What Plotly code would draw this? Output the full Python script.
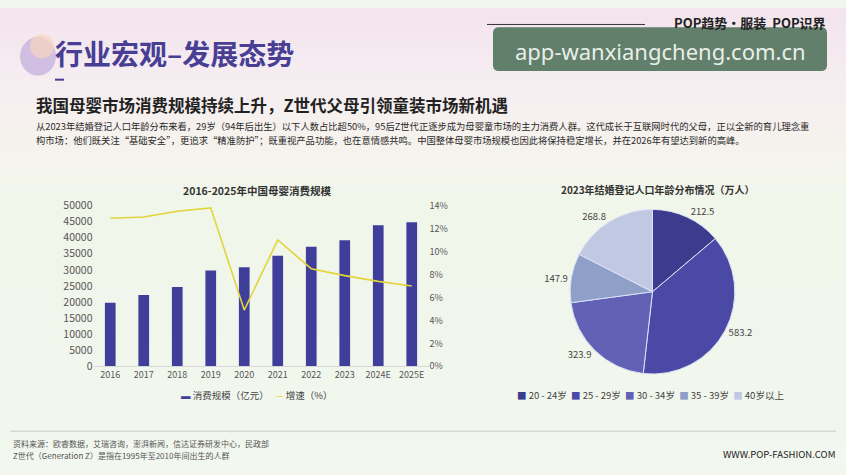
import plotly.graph_objects as go

W, H = 846, 475

# ---------------- data ----------------
years = ["2016", "2017", "2018", "2019", "2020", "2021", "2022", "2023", "2024E", "2025E"]
scale_values = [19800, 22200, 24700, 29800, 30800, 34400, 37200, 39200, 43900, 44800]
growth_rates = [0.129, 0.130, 0.135, 0.138, 0.049, 0.110, 0.085, 0.079, 0.074, 0.070]
left_ticks = [0, 5000, 10000, 15000, 20000, 25000, 30000, 35000, 40000, 45000, 50000]
right_ticks = [0, 0.02, 0.04, 0.06, 0.08, 0.10, 0.12, 0.14]
bar_name = "消费规模（亿元）"
line_name = "增速（%）"

age_groups = ["20 - 24岁", "25 - 29岁", "30 - 34岁", "35 - 39岁", "40岁以上"]
marriage_counts = [212.5, 583.2, 323.9, 147.9, 268.8]
pie_colors = ["#3b3c8d", "#4a4aa6", "#6161b6", "#8fa0c8", "#c1c8e2"]

BAR_COLOR = "#3f3f9b"
LINE_COLOR = "#e3d43a"
FONT = "Noto Sans CJK SC"


def px(x):
    return x / W


def py(y):
    return 1 - y / H


fig = go.Figure()

fig.add_trace(go.Bar(
    x=years, y=scale_values, name=bar_name, width=0.32,
    marker=dict(color=BAR_COLOR, line=dict(width=0)), showlegend=False,
))
fig.add_trace(go.Scatter(
    x=years, y=growth_rates, name=line_name, mode="lines", yaxis="y2",
    line=dict(color=LINE_COLOR, width=1.6), showlegend=False,
))
fig.add_trace(go.Pie(
    labels=age_groups, values=marriage_counts, sort=False, direction="clockwise",
    rotation=0, textposition="outside", texttemplate="%{value:.1f}",
    textfont=dict(size=9.5, color="#444"),
    marker=dict(colors=pie_colors, line=dict(color="#dde2f6", width=1)),
    domain=dict(x=[px(567.5), px(737.5)], y=[py(378), py(208)]),
    showlegend=False,
))

# ---------------- background gradient ----------------
stops = [(0, (243, 227, 237)), (60, (245, 235, 241)), (130, (246, 242, 238)),
         (200, (241, 246, 234)), (475, (242, 247, 239))]
shapes = []
N = 60
for i in range(N):
    y0 = H * i / N
    y1 = H * (i + 1) / N
    ym = (y0 + y1) / 2
    for (a, ca), (b, cb) in zip(stops[:-1], stops[1:]):
        if a <= ym <= b:
            t = (ym - a) / (b - a)
            c = tuple(int(round(ca[k] + (cb[k] - ca[k]) * t)) for k in range(3))
            break
    shapes.append(dict(type="rect", xref="paper", yref="paper", x0=0, x1=1,
                       y0=py(y1), y1=py(y0), fillcolor="rgb(%d,%d,%d)" % c,
                       line=dict(width=0), layer="below"))

# header blob
shapes.append(dict(type="circle", xref="paper", yref="paper", x0=px(20), x1=px(56),
                   y0=py(70), y1=py(30), fillcolor="rgba(196,176,222,0.75)",
                   line=dict(width=0), layer="below"))
shapes.append(dict(type="circle", xref="paper", yref="paper", x0=px(30), x1=px(54),
                   y0=py(52), y1=py(27), fillcolor="rgba(246,214,190,0.7)",
                   line=dict(width=0), layer="below"))
# dash under the title
shapes.append(dict(type="line", xref="paper", yref="paper", x0=px(55), x1=px(64),
                   y0=py(74), y1=py(74), line=dict(color="#463d8f", width=2)))
# top-right rule
shapes.append(dict(type="line", xref="paper", yref="paper", x0=px(487), x1=px(645),
                   y0=py(17), y1=py(17), line=dict(color="#333", width=1)))
# watermark box (rounded)
bx0, bx1, by0, by1, r = 493, 827, 20, 65, 6
path = (f"M {px(bx0 + r)} {py(by0)} L {px(bx1 - r)} {py(by0)} "
        f"Q {px(bx1)} {py(by0)} {px(bx1)} {py(by0 + r)} L {px(bx1)} {py(by1 - r)} "
        f"Q {px(bx1)} {py(by1)} {px(bx1 - r)} {py(by1)} L {px(bx0 + r)} {py(by1)} "
        f"Q {px(bx0)} {py(by1)} {px(bx0)} {py(by1 - r)} L {px(bx0)} {py(by0 + r)} "
        f"Q {px(bx0)} {py(by0)} {px(bx0 + r)} {py(by0)} Z")
shapes.append(dict(type="path", xref="paper", yref="paper", path=path,
                   fillcolor="rgba(88,121,98,0.95)", line=dict(width=0)))
# footer rule
shapes.append(dict(type="line", xref="paper", yref="paper", x0=px(10), x1=px(836),
                   y0=py(437), y1=py(437), line=dict(color="#c8c8c8", width=1)))


def ann(text, x, y, size, color="#333", xanchor="left", bold=False, family=FONT):
    if bold:
        text = "<b>" + text + "</b>"
    return dict(text=text, x=px(x), y=py(y), xref="paper", yref="paper",
                xanchor=xanchor, yanchor="middle", showarrow=False,
                font=dict(size=size, color=color, family=family))


# compact legends built from the series names / colours
bar_legend = (f"<span style='color:{BAR_COLOR}'>▬</span> {bar_name}   "
              f"<span style='color:{LINE_COLOR}'>—</span> {line_name}")
pie_legend = "  ".join(f"<span style='color:{c}'>■</span> {g}" for g, c in zip(age_groups, pie_colors))

annotations = [
    ann("行业宏观–发展态势", 53, 46, 28, "#483f95", bold=True),
    ann("POP趋势·服装  POP识界", 828, 15, 13, "#222", xanchor="right", bold=True),
    ann("app-wanxiangcheng.com.cn", 660, 44, 22, "#e9eee9", xanchor="center", family="Noto Sans"),
    ann("我国母婴市场消费规模持续上升，Z世代父母引领童装市场新机遇", 34, 100, 16.5, "#222", bold=True),
    ann("从2023年结婚登记人口年龄分布来看，29岁（94年后出生）以下人数占比超50%，95后Z世代正逐步成为母婴童市场的主力消费人群。这代成长于互联网时代的父母，正以全新的育儿理念重",
        34, 122, 9.3, "#2a2a2a"),
    ann("构市场：他们既关注“基础安全”，更追求“精准防护”；既重视产品功能，也在意情感共鸣。中国整体母婴市场规模也因此将保持稳定增长，并在2026年有望达到新的高峰。",
        34, 136, 9.3, "#2a2a2a"),
    ann("2016-2025年中国母婴消费规模", 257, 188, 10.5, "#333", xanchor="center", bold=True),
    ann("2023年结婚登记人口年龄分布情况（万人）", 658, 187, 10, "#333", xanchor="center", bold=True),
    ann(bar_legend, 256, 400, 9.5, "#444", xanchor="center"),
    ann(pie_legend, 650, 400, 9.5, "#444", xanchor="center"),
    ann("资料来源：欧睿数据，艾瑞咨询，澎湃新闻，信达证券研发中心，民政部", 11, 450, 8, "#555"),
    ann("Z世代（Generation Z）是指在1995年至2010年间出生的人群", 11, 462, 8, "#555"),
    ann("WWW.POP-FASHION.COM", 837, 461, 9.5, "#222", xanchor="right"),
]

fig.update_layout(
    width=W, height=H, autosize=False,
    margin=dict(l=0, r=0, t=0, b=0),
    paper_bgcolor="#f2f6ec", plot_bgcolor="rgba(0,0,0,0)",
    font=dict(family=FONT, color="#555"),
    shapes=shapes, annotations=annotations,
    showlegend=False,
    xaxis=dict(domain=[px(93.5), px(428.5)], type="category", showgrid=False,
               showline=True, linecolor="#d6d6d6", linewidth=1, ticks="",
               tickfont=dict(size=9, color="#555")),
    yaxis=dict(domain=[py(370), py(204)], range=[0, 50000], tickvals=left_ticks,
               tickformat="d", showgrid=False, zeroline=False, showline=False, ticks="",
               tickfont=dict(size=10.5, color="#555")),
    yaxis2=dict(overlaying="y", side="right", range=[0, 0.14], tickvals=right_ticks,
                tickformat=".0%", showgrid=False, zeroline=False, showline=False,
                ticks="", tickfont=dict(size=9, color="#555")),
)

fig.write_html("out.html", post_script="document.body.style.margin='0';document.body.style.overflow='hidden';")
